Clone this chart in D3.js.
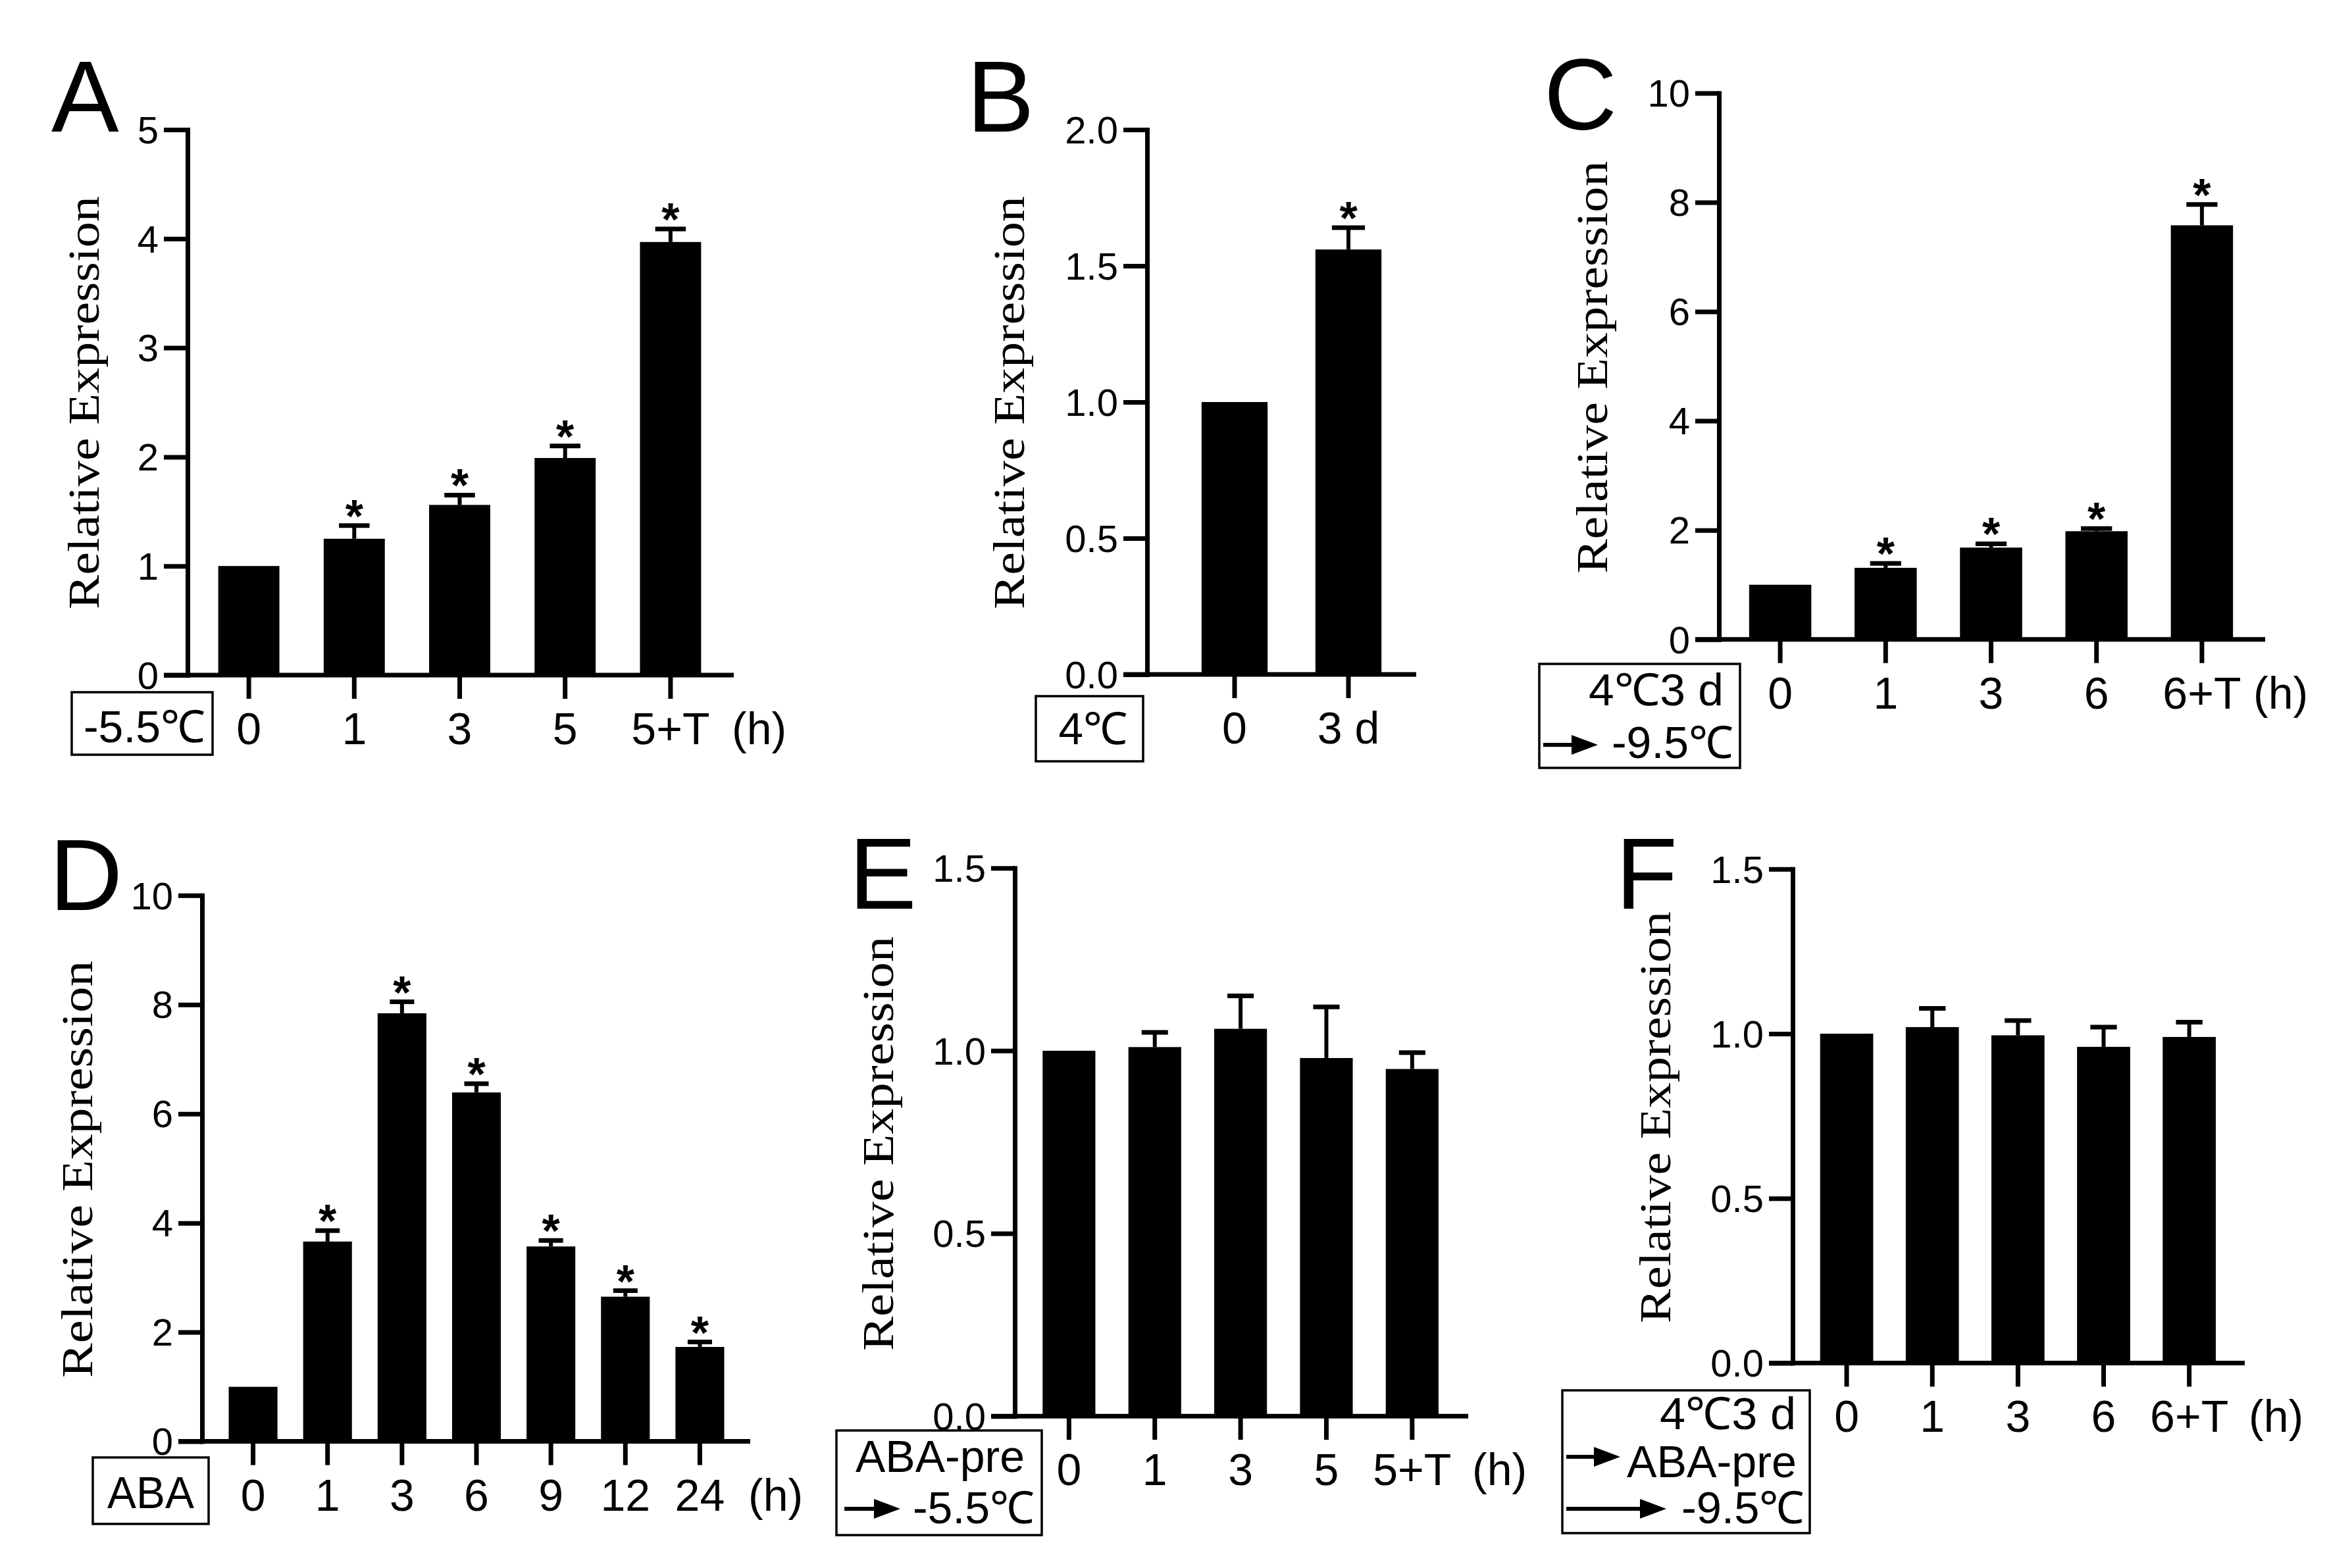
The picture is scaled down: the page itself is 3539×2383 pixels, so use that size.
<!DOCTYPE html>
<html><head><meta charset="utf-8">
<script src="https://cdn.jsdelivr.net/npm/d3@7"></script>
<style>html,body{margin:0;padding:0;background:#fff;} svg{display:block;}</style>
</head><body>
<svg id="fig" width="3539" height="2383"></svg>
<script>
// ---------- DATA ----------
const yTitle = "Relative Expression";
const unitLabel = "(h)";

const catsA = ["0","1","3","5","5+T"];
const valsA = [1.00, 1.25, 1.56, 1.99, 3.97];
const errsA = [0, 0.12, 0.09, 0.11, 0.12];
const sigA  = [false, true, true, true, true];
const ticksA = [0,1,2,3,4,5];
const condA = ["-5.5℃"];

const catsB = ["0","3 d"];
const valsB = [1.00, 1.56];
const errsB = [0, 0.08];
const sigB  = [false, true];
const ticksB = [0,0.5,1.0,1.5,2.0];
const condB = ["4℃"];

const catsC = ["0","1","3","6","6+T"];
const valsC = [1.00, 1.31, 1.68, 1.98, 7.58];
const errsC = [0, 0.08, 0.07, 0.05, 0.38];
const sigC  = [false, true, true, true, true];
const ticksC = [0,2,4,6,8,10];
const condC = ["4℃3 d","-9.5℃"];

const catsD = ["0","1","3","6","9","12","24"];
const valsD = [1.00, 3.66, 7.84, 6.39, 3.57, 2.65, 1.73];
const errsD = [0, 0.20, 0.21, 0.16, 0.11, 0.11, 0.09];
const sigD  = [false, true, true, true, true, true, true];
const ticksD = [0,2,4,6,8,10];
const condD = ["ABA"];

const catsE = ["0","1","3","5","5+T"];
const valsE = [1.00, 1.01, 1.06, 0.98, 0.95];
const errsE = [0, 0.04, 0.09, 0.14, 0.045];
const sigE  = [false, false, false, false, false];
const ticksE = [0,0.5,1.0,1.5];
const condE = ["ABA-pre","-5.5℃"];

const catsF = ["0","1","3","6","6+T"];
const valsF = [1.00, 1.02, 0.995, 0.96, 0.99];
const errsF = [0, 0.057, 0.045, 0.06, 0.045];
const sigF  = [false, false, false, false, false];
const ticksF = [0,0.5,1.0,1.5];
const condF = ["4℃3 d","ABA-pre","-9.5℃"];

// ---------- LAYOUT ----------
const fmtInt = d3.format("d"), fmt1 = d3.format(".1f");
const panels = [
  {letter:"A", cats:catsA, vals:valsA, errs:errsA, sig:sigA, ticks:ticksA, fmt:fmtInt,
   axisX:285, yTop:197, yZero:1026, band:[298,1099], axisEnd:1115, pad:0.42,
   titleX:150, titleY:612, titleLen:628, letterX:78, letterY:200, unitX:1112,
   box:{x:109,y:1052,w:214,h:95},
   lines:[{t:condA[0], x:219.5, y:1128, a:"middle", len:185}], arrows:[]},
  {letter:"B", cats:catsB, vals:valsB, errs:errsB, sig:sigB, ticks:ticksB, fmt:fmt1,
   axisX:1743, yTop:197, yZero:1025, band:[1789.5,2135.5], axisEnd:2152, pad:0.42,
   titleX:1556, titleY:612, titleLen:628, letterX:1469, letterY:200, unitX:null,
   box:{x:1574,y:1058,w:163,h:99},
   lines:[{t:condB[0], x:1661, y:1131, a:"middle", len:105}], arrows:[]},
  {letter:"C", cats:catsC, vals:valsC, errs:errsC, sig:sigC, ticks:ticksC, fmt:fmtInt,
   axisX:2612, yTop:141.5, yZero:971.7, band:[2625,3426], axisEnd:3442, pad:0.41,
   titleX:2442, titleY:558, titleLen:627, letterX:2346, letterY:197, unitX:3424,
   box:{x:2339,y:1009,w:305,h:158},
   lines:[{t:condC[0], x:2619, y:1072, a:"end", len:205},
          {t:condC[1], x:2634, y:1152, a:"end", len:185}],
   arrows:[{x1:2345, x2:2428, y:1132}]},
  {letter:"D", cats:catsD, vals:valsD, errs:errsD, sig:sigD, ticks:ticksD, fmt:fmtInt,
   axisX:307, yTop:1360.7, yZero:2190.6, band:[328,1120], axisEnd:1140, pad:0.345,
   titleX:140, titleY:1777, titleLen:634, letterX:75, letterY:1383, unitX:1137,
   box:{x:141,y:2215,w:176,h:101},
   lines:[{t:condD[0], x:229, y:2292, a:"middle", len:132}], arrows:[]},
  {letter:"E", cats:catsE, vals:valsE, errs:errsE, sig:sigE, ticks:ticksE, fmt:fmt1,
   axisX:1542, yTop:1319.2, yZero:2152.2, band:[1559.2,2211], axisEnd:2231, pad:0.385,
   titleX:1357, titleY:1738, titleLen:630, letterX:1290, letterY:1381, unitX:2237,
   box:{x:1271,y:2174,w:312,h:159},
   lines:[{t:condE[0], x:1428.5, y:2237, a:"middle", len:257},
          {t:condE[1], x:1572, y:2315, a:"end", len:185}],
   arrows:[{x1:1283, x2:1368, y:2293}]},
  {letter:"F", cats:catsF, vals:valsF, errs:errsF, sig:sigF, ticks:ticksF, fmt:fmt1,
   axisX:2724, yTop:1320.7, yZero:2071.4, band:[2741,3391.7], axisEnd:3411, pad:0.38,
   titleX:2538, titleY:1698, titleLen:626, letterX:2455, letterY:1381, unitX:3417,
   box:{x:2374,y:2113,w:376,h:217},
   lines:[{t:condF[0], x:2729, y:2172, a:"end", len:207},
          {t:condF[1], x:2730, y:2245, a:"end", len:258},
          {t:condF[2], x:2742, y:2315, a:"end", len:187}],
   arrows:[{x1:2380, x2:2462, y:2214},{x1:2380, x2:2532, y:2293}]}
];

const SANS = "'Liberation Sans', Arial, Helvetica, sans-serif";
const SERIF = "'Liberation Serif', 'Times New Roman', Times, serif";
const AX = 7, TICK = 36;

const svg = d3.select("#fig");
svg.append("rect").attr("width",3539).attr("height",2383).attr("fill","#fff");

panels.forEach(p => {
  const g = svg.append("g");
  const yMax = p.ticks[p.ticks.length-1];
  const y = d3.scaleLinear().domain([0, yMax]).range([p.yZero, p.yTop]);
  const x = d3.scaleBand().domain(p.cats).range(p.band)
              .paddingInner(p.pad).paddingOuter(p.pad/2);
  const bw = x.bandwidth();
  const data = p.cats.map((c,i)=>({c, v:p.vals[i], e:p.errs[i], s:p.sig[i]}));

  // bars
  g.selectAll("rect.bar").data(data).join("rect").attr("class","bar")
    .attr("x", d=>x(d.c)).attr("width", bw)
    .attr("y", d=>y(d.v)).attr("height", d=>y(0)-y(d.v))
    .attr("fill","#000");

  // error bars (upper)
  const eb = data.filter(d=>d.e>0);
  g.selectAll("line.ev").data(eb).join("line")
    .attr("x1", d=>x(d.c)+bw/2).attr("x2", d=>x(d.c)+bw/2)
    .attr("y1", d=>y(d.v)).attr("y2", d=>y(d.v+d.e))
    .attr("stroke","#000").attr("stroke-width",6);
  g.selectAll("line.ec").data(eb).join("line")
    .attr("x1", d=>x(d.c)+bw/4).attr("x2", d=>x(d.c)+bw*3/4)
    .attr("y1", d=>y(d.v+d.e)).attr("y2", d=>y(d.v+d.e))
    .attr("stroke","#000").attr("stroke-width",7);

  // significance asterisks
  g.selectAll("text.sig").data(data.filter(d=>d.s)).join("text")
    .attr("x", d=>x(d.c)+bw/2).attr("y", d=>y(d.v+d.e)+10)
    .attr("text-anchor","middle").attr("font-family",SANS)
    .attr("font-weight","bold").attr("font-size",70).text("*");

  // y axis
  const ya = g.append("g").attr("transform",`translate(${p.axisX},0)`)
    .call(d3.axisLeft(y).tickValues(p.ticks).tickFormat(p.fmt)
          .tickSize(TICK).tickSizeOuter(0).tickPadding(8));
  ya.select(".domain").attr("stroke-width",AX).attr("stroke-linecap","square");
  ya.selectAll(".tick line").attr("stroke-width",AX);
  ya.selectAll(".tick text").attr("font-family",SANS).attr("font-size",58)
    .attr("fill","#000").attr("dy","0.35em");

  // x axis baseline
  g.append("line").attr("x1",p.axisX-TICK).attr("x2",p.axisEnd)
    .attr("y1",p.yZero).attr("y2",p.yZero)
    .attr("stroke","#000").attr("stroke-width",AX);
  const xa = g.append("g").attr("transform",`translate(0,${p.yZero})`)
    .call(d3.axisBottom(x).tickSize(TICK).tickSizeOuter(0));
  xa.select(".domain").remove();
  xa.selectAll(".tick line").attr("stroke-width",AX);
  xa.selectAll(".tick text").attr("font-family",SANS).attr("font-size",68)
    .attr("fill","#000").attr("y",105).attr("dy",0);

  if (p.unitX !== null) {
    g.append("text").attr("x",p.unitX).attr("y",p.yZero+105)
      .attr("font-family",SANS).attr("font-size",68).text(unitLabel);
  }

  // y title
  g.append("text")
    .attr("transform",`translate(${p.titleX},${p.titleY}) rotate(-90)`)
    .attr("text-anchor","middle").attr("font-family",SERIF).attr("font-size",68)
    .attr("textLength",p.titleLen).attr("lengthAdjust","spacingAndGlyphs")
    .text(yTitle);

  // panel letter
  g.append("text").attr("x",p.letterX).attr("y",p.letterY)
    .attr("font-family",SANS).attr("font-size",154).text(p.letter);

  // condition box
  g.append("rect").attr("x",p.box.x).attr("y",p.box.y)
    .attr("width",p.box.w).attr("height",p.box.h)
    .attr("fill","none").attr("stroke","#000").attr("stroke-width",3.5);
  p.lines.forEach(l => {
    g.append("text").attr("x",l.x).attr("y",l.y).attr("text-anchor",l.a)
      .attr("font-family",SANS).attr("font-size",68)
      .attr("textLength",l.len).attr("lengthAdjust","spacingAndGlyphs")
      .text(l.t);
  });
  p.arrows.forEach(a => {
    const hl = 40, hh = 15;
    g.append("line").attr("x1",a.x1).attr("x2",a.x2-hl+2)
      .attr("y1",a.y).attr("y2",a.y).attr("stroke","#000").attr("stroke-width",6);
    g.append("path")
      .attr("d",`M${a.x2},${a.y} L${a.x2-hl},${a.y-hh} L${a.x2-hl},${a.y+hh} Z`)
      .attr("fill","#000");
  });
});
</script>
</body></html>
